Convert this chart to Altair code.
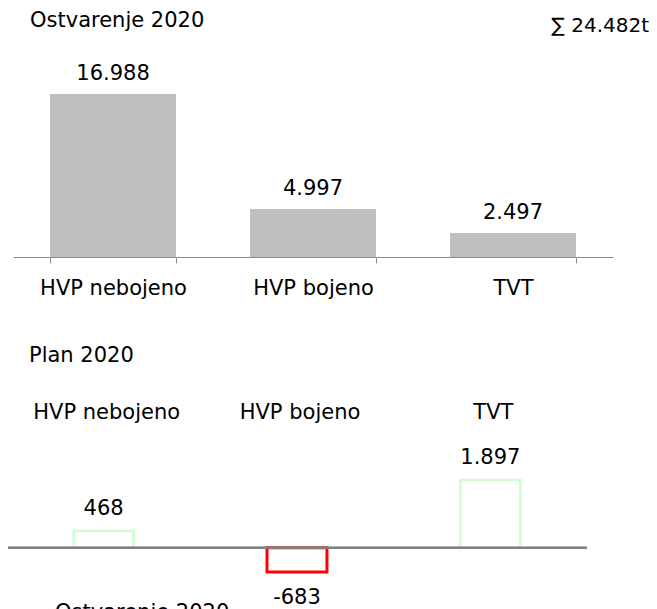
import altair as alt
import pandas as pd

categories = ["HVP nebojeno", "HVP bojeno", "TVT"]
actual_values = [16988, 4997, 2497]
plan_diff_values = [468, -683, 1897]

title_top = "Ostvarenje 2020"
title_bottom = "Plan 2020"
legend_label = "Ostvarenje 2020"
unit = "t"

FONT = "DejaVu Sans"
FS = 21


def fmt(v):
    return f"{v:,}".replace(",", ".")


top_df = pd.DataFrame({"cat": categories, "value": actual_values,
                       "label": [fmt(v) for v in actual_values]})
bot_df = pd.DataFrame({"cat": categories, "value": plan_diff_values,
                       "label": [fmt(v) for v in plan_diff_values]})
sum_label = "\u2211 " + fmt(sum(actual_values)) + unit

# ---------- top chart ----------
x_top = alt.X("cat:N", sort=categories,
              scale=alt.Scale(range=[5, 605], paddingInner=0.37, paddingOuter=0.185),
              axis=alt.Axis(title=None, labelAngle=0, domainColor="#8c8c8c",
                            tickColor="#8c8c8c", tickSize=6, tickBand="extent",
                            labelPadding=14, labelFontSize=FS, labelFont=FONT,
                            labelColor="#000000", domainWidth=1, tickWidth=1))
y_top = alt.Y("value:Q", scale=alt.Scale(range=[249, 86], nice=False, zero=True), axis=None)

top_bars = alt.Chart(top_df).mark_bar(color="#bfbfbf").encode(x=x_top, y=y_top)
top_text = alt.Chart(top_df).mark_text(dy=-14, baseline="alphabetic", fontSize=FS,
                                       font=FONT, color="#000000").encode(
    x=alt.X("cat:N", sort=categories), y="value:Q", text="label:N")
top = alt.layer(top_bars, top_text)

# ---------- bottom chart ----------
x_bot = alt.X("cat:N", sort=categories,
              scale=alt.Scale(range=[-1, 579], paddingInner=0.69, paddingOuter=0.345),
              axis=None)
y_bot = alt.Y("value:Q", scale=alt.Scale(range=[564, 472], nice=False, zero=True), axis=None)

bot_bars = alt.Chart(bot_df).mark_bar(fill="#ffffff", fillOpacity=0).encode(
    x=x_bot, y=y_bot,
    stroke=alt.condition("datum.value < 0", alt.value("#ff0000"), alt.value("#ccffcc")),
    strokeWidth=alt.condition("datum.value < 0", alt.value(3), alt.value(2.5)),
)
zero_line = alt.Chart(bot_df).mark_rule(color="#808080", strokeWidth=2).encode(
    x=alt.value(-1), x2=alt.value(579), y=alt.datum(0))
pos_text = alt.Chart(bot_df).transform_filter("datum.value >= 0").mark_text(
    dy=-16, baseline="alphabetic", fontSize=FS, font=FONT, color="#000000").encode(
    x=alt.X("cat:N", sort=categories), y="value:Q", text="label:N")
neg_text = alt.Chart(bot_df).transform_filter("datum.value < 0").mark_text(
    dy=15, baseline="top", fontSize=FS, font=FONT, color="#000000").encode(
    x=alt.X("cat:N", sort=categories), y="value:Q", text="label:N")
cat_text = alt.Chart(bot_df).mark_text(dx=3, baseline="alphabetic", fontSize=FS,
                                       font=FONT, color="#000000").encode(
    x=alt.X("cat:N", sort=categories), y=alt.value(411), text="cat:N")
bottom = alt.layer(bot_bars, zero_line, pos_text, neg_text, cat_text)

# ---------- annotations ----------
def note(txt, x, y, align="left", size=FS):
    return alt.Chart(pd.DataFrame({"t": [txt]})).mark_text(
        align=align, baseline="alphabetic", fontSize=size, font=FONT, color="#000000"
    ).encode(x=alt.value(x), y=alt.value(y), text="t:N")

notes = [
    note(title_top, 22, 19),
    note(sum_label, 641, 24, align="right", size=20),
    note(title_bottom, 21, 354),
    note(legend_label, 47, 611),
]

chart = alt.layer(top, bottom, *notes).resolve_scale(
    x="independent", y="independent"
).properties(
    width=641, height=249,
    padding={"left": 0, "top": 0, "right": 0, "bottom": 352},
    autosize=alt.AutoSizeParams(type="none"),
    background="#ffffff",
).configure(font=FONT).configure_view(stroke="transparent", strokeWidth=0)

chart.save("out.html", embed_options={"renderer": "svg", "actions": False})
